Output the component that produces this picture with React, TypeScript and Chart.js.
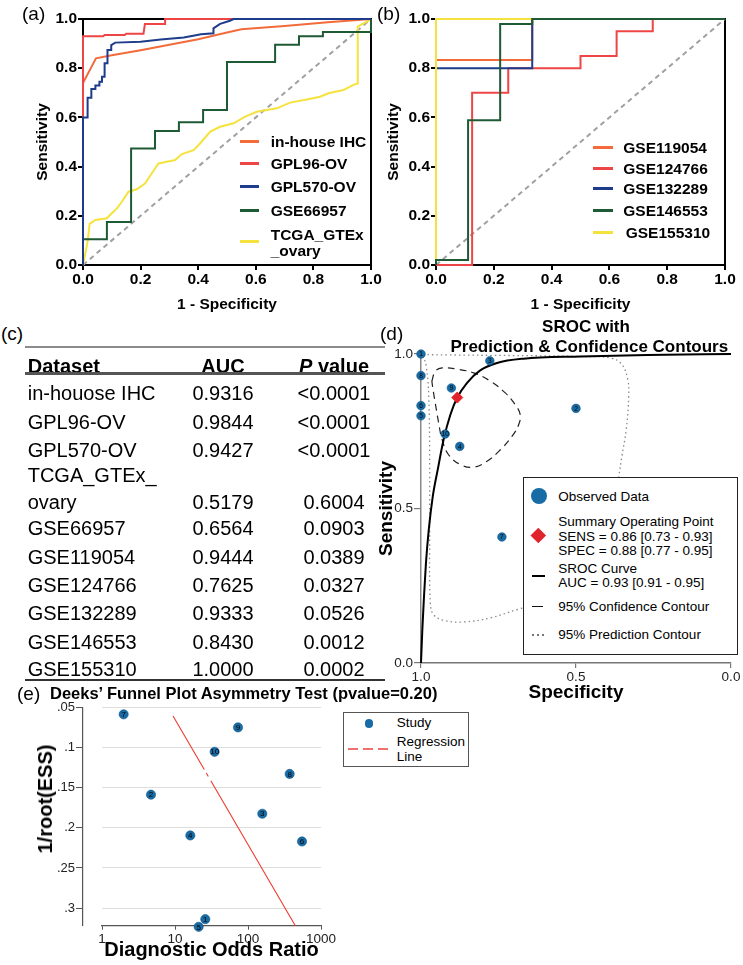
import React, { useEffect, useRef } from 'react';
import { Chart, registerables } from 'chart.js';

Chart.register(...registerables);

const FONT = "'Liberation Sans', Arial, Helvetica, sans-serif";
Chart.defaults.font.family = FONT;
Chart.defaults.color = '#000';

// ---------------- (a) ROC curves ----------------
const rocTicks = [0, 0.2, 0.4, 0.6, 0.8, 1];
const rocTickLabels = ['0.0', '0.2', '0.4', '0.6', '0.8', '1.0'];
const diagX = [0, 1];
const diagY = [0, 1];

const aNames = ['in-house IHC', 'GPL96-OV', 'GPL570-OV', 'GSE66957', 'TCGA_GTEx_ovary'];
const aLegendText = [['in-house IHC'], ['GPL96-OV'], ['GPL570-OV'], ['GSE66957'], ['TCGA_GTEx', '_ovary']];
const aColors = ['#F36B3B', '#EE4647', '#1E3C8C', '#1E5A34', '#F6E23C'];

const ihcFpr = [0, 0, 0.045, 0.1, 0.2, 0.3, 0.4, 0.5, 0.55, 0.7, 0.85, 1];
const ihcTpr = [0, 0.74, 0.84, 0.853, 0.873, 0.895, 0.918, 0.945, 0.958, 0.972, 0.987, 1];

const gpl96Fpr = [0, 0, 0.07, 0.075, 0.145, 0.15, 0.21, 0.215, 0.285, 0.285, 1];
const gpl96Tpr = [0, 0.93, 0.93, 0.935, 0.935, 0.94, 0.94, 0.98, 0.98, 1, 1];

const gpl570Fpr = [0, 0, 0.016, 0.016, 0.029, 0.029, 0.043, 0.043, 0.057, 0.057, 0.066, 0.066, 0.075, 0.075, 0.085, 0.085, 0.098, 0.098, 0.112, 0.2, 0.27, 0.35, 0.41, 0.453, 0.453, 0.476, 0.51, 0.523, 1];
const gpl570Tpr = [0, 0.6, 0.6, 0.68, 0.68, 0.715, 0.715, 0.73, 0.73, 0.745, 0.745, 0.765, 0.765, 0.82, 0.82, 0.874, 0.874, 0.894, 0.904, 0.908, 0.917, 0.925, 0.938, 0.942, 0.962, 0.98, 0.993, 1, 1];

const gse66957Fpr = [0, 0, 0.083, 0.083, 0.167, 0.167, 0.25, 0.25, 0.333, 0.333, 0.417, 0.417, 0.5, 0.5, 0.667, 0.667, 0.75, 0.75, 0.833, 0.833, 1, 1];
const gse66957Tpr = [0, 0.105, 0.105, 0.175, 0.175, 0.474, 0.474, 0.545, 0.545, 0.58, 0.58, 0.63, 0.63, 0.825, 0.825, 0.895, 0.895, 0.93, 0.93, 0.947, 0.947, 1];

const tcgaFpr = [0, 0.008, 0.016, 0.023, 0.043, 0.083, 0.1, 0.118, 0.135, 0.158, 0.187, 0.216, 0.239, 0.262, 0.291, 0.32, 0.343, 0.384, 0.407, 0.442, 0.476, 0.523, 0.563, 0.603, 0.673, 0.719, 0.777, 0.823, 0.852, 0.904, 0.939, 0.953, 0.954, 0.985, 1];
const tcgaTpr = [0, 0.047, 0.095, 0.167, 0.183, 0.19, 0.21, 0.23, 0.257, 0.298, 0.308, 0.332, 0.373, 0.413, 0.42, 0.427, 0.451, 0.467, 0.495, 0.542, 0.562, 0.576, 0.603, 0.623, 0.637, 0.66, 0.673, 0.684, 0.698, 0.711, 0.732, 0.738, 0.969, 0.989, 1];

// ---------------- (b) ROC curves ----------------
const bNames = ['GSE119054', 'GSE124766', 'GSE132289', 'GSE146553', 'GSE155310'];
const bColors = ['#F36B3B', '#EE4647', '#1E3C8C', '#1E5A34', '#F6E23C'];

const gse119054Fpr = [0, 0, 0.333, 0.333, 1];
const gse119054Tpr = [0, 0.833, 0.833, 1, 1];
const gse124766Fpr = [0, 0.125, 0.125, 0.25, 0.25, 0.5, 0.5, 0.625, 0.625, 0.75, 0.75, 1];
const gse124766Tpr = [0, 0, 0.7, 0.7, 0.8, 0.8, 0.85, 0.85, 0.95, 0.95, 1, 1];
const gse132289Fpr = [0, 0, 0.333, 0.333, 1];
const gse132289Tpr = [0, 0.8, 0.8, 1, 1];
const gse146553Fpr = [0, 0, 0.111, 0.111, 0.222, 0.222, 0.333, 0.333, 1];
const gse146553Tpr = [0, 0.02, 0.02, 0.588, 0.588, 0.98, 0.98, 1, 1];
const gse155310Fpr = [0, 0, 1];
const gse155310Tpr = [0, 1, 1];

// ---------------- (c) table ----------------
const tHeaders = ['Dataset', 'AUC', 'P value'];
const tDatasets = ['in-houose IHC', 'GPL96-OV', 'GPL570-OV', 'TCGA_GTEx_\novary', 'GSE66957', 'GSE119054', 'GSE124766', 'GSE132289', 'GSE146553', 'GSE155310'];
const tAuc = ['0.9316', '0.9844', '0.9427', '0.5179', '0.6564', '0.9444', '0.7625', '0.9333', '0.8430', '1.0000'];
const tP = ['<0.0001', '<0.0001', '<0.0001', '0.6004', '0.0903', '0.0389', '0.0327', '0.0526', '0.0012', '0.0002'];

// ---------------- (d) SROC ----------------
const sTicks = [0, 0.5, 1];
const sTickLabels = ['0.0', '0.5', '1.0'];
const studyIds = ['1', '8', '6', '5', '3', '9', '2', '10', '4', '7'];
const studySpec = [1.0, 1.0, 1.0, 1.0, 0.778, 0.902, 0.5, 0.922, 0.875, 0.739];
const studySens = [1.0, 0.93, 0.833, 0.8, 0.978, 0.89, 0.824, 0.741, 0.701, 0.408];
const summarySpec = [0.883];
const summarySens = [0.859];
const srocSpec = [1, 0.9957, 0.9903, 0.984, 0.975, 0.962, 0.946, 0.927, 0.905, 0.883, 0.852, 0.809, 0.755, 0.669, 0.486, 0.271, 0];
const srocSens = [0, 0.108, 0.216, 0.324, 0.431, 0.539, 0.626, 0.723, 0.804, 0.859, 0.906, 0.947, 0.971, 0.985, 0.992, 0.997, 1.0];
const confSpec = [0.965, 0.954, 0.932, 0.884, 0.83, 0.776, 0.728, 0.696, 0.68, 0.685, 0.706, 0.744, 0.787, 0.83, 0.873, 0.911, 0.932, 0.943, 0.954, 0.962, 0.965];
const confSens = [0.912, 0.944, 0.955, 0.951, 0.939, 0.912, 0.874, 0.836, 0.804, 0.771, 0.734, 0.69, 0.653, 0.634, 0.642, 0.674, 0.723, 0.777, 0.841, 0.89, 0.912];
const predSpec = [0.994, 0.916, 0.701, 0.486, 0.389, 0.352, 0.333, 0.33, 0.338, 0.352, 0.362, 0.389, 0.486, 0.615, 0.69, 0.776, 0.862, 0.927, 0.959, 0.97, 0.972, 0.972, 0.975, 0.983, 0.994];
const predSens = [0.998, 0.997, 0.995, 0.992, 0.987, 0.966, 0.917, 0.863, 0.755, 0.669, 0.604, 0.431, 0.259, 0.194, 0.173, 0.146, 0.133, 0.138, 0.156, 0.194, 0.431, 0.647, 0.863, 0.96, 0.998];

// ---------------- (e) Deeks' funnel ----------------
const eIds = ['7', '9', '10', '8', '2', '3', '4', '6', '1', '5'];
const eDor = [1.98, 73, 34.9, 372, 4.69, 157, 16.2, 549, 26.0, 21.1];
const eInvRootEss = [0.0583, 0.0746, 0.105, 0.1326, 0.1585, 0.1823, 0.2094, 0.2169, 0.3138, 0.3234];
const regDor = [9.4, 445];
const regInvRootEss = [0.0604, 0.322];
const eYTicks = [0.05, 0.1, 0.15, 0.2, 0.25, 0.3];
const eYLabels = ['.05', '.1', '.15', '.2', '.25', '.3'];
const eXTicks = [1, 10, 100, 1000];
const eXLabels = ['1', '10', '100', '1000'];

const POINT_BLUE = '#186ca6';
const DIAMOND_RED = '#e1242b';

// ---------------- helpers ----------------
const pts = (xs: number[], ys: number[]) => xs.map((x, i) => ({ x, y: ys[i] }));

const framePlugin = {
  id: 'frame',
  beforeDatasetsDraw(chart: any, _a: any, opts: any) {
    if (!opts || !opts.color) return;
    const { ctx, chartArea: c } = chart;
    ctx.save();
    ctx.strokeStyle = opts.color;
    ctx.lineWidth = opts.width || 2;
    ctx.strokeRect(c.left, c.top, c.right - c.left, c.bottom - c.top);
    ctx.restore();
  },
};

// draws each point's study number (stored on the dataset as pointIds) on top of the marker
const pointLabelPlugin = {
  id: 'ptLabels',
  afterDatasetsDraw(chart: any) {
    const ctx = chart.ctx;
    chart.data.datasets.forEach((ds: any, di: number) => {
      if (!ds.pointIds) return;
      const meta = chart.getDatasetMeta(di);
      ctx.save();
      ctx.font = `${ds.pointIdSize || 7}px ${FONT}`;
      ctx.fillStyle = '#000';
      ctx.textAlign = 'center';
      ctx.textBaseline = 'middle';
      meta.data.forEach((el: any, i: number) => {
        ctx.fillText(String(ds.pointIds[i]), el.x, el.y + 0.5);
      });
      ctx.restore();
    });
  },
};

function rocLine(label: string, xs: number[], ys: number[], color: string, extra: any = {}) {
  return {
    label,
    data: pts(xs, ys),
    borderColor: color,
    backgroundColor: color,
    borderWidth: 2,
    pointRadius: 0,
    tension: 0,
    fill: false,
    clip: false,
    ...extra,
  };
}

function rocOptions(yWidth: number, yTitlePad: number, padRight: number) {
  const f = { family: FONT, size: 15.5, weight: 'bold' as const };
  return {
    responsive: false,
    animation: false,
    devicePixelRatio: 1,
    layout: { padding: { top: 19, right: padRight, left: 0, bottom: 0 } },
    plugins: { legend: { display: false }, tooltip: { enabled: false }, frame: { color: '#000', width: 2 } },
    scales: {
      x: {
        type: 'linear',
        min: 0,
        max: 1,
        afterBuildTicks: (s: any) => { s.ticks = rocTicks.map((v) => ({ value: v })); },
        ticks: { font: f, color: '#000', padding: 0, maxRotation: 0, autoSkip: false, callback: (_v: any, i: number) => rocTickLabels[i] },
        grid: { display: true, drawOnChartArea: false, drawTicks: true, tickLength: 5, color: '#000', lineWidth: 2 },
        border: { display: true, color: '#000', width: 2 },
        title: { display: true, text: '1 - Specificity', font: f, color: '#000', padding: { top: 0, bottom: 5.7 } },
        afterFit: (s: any) => { s.height = 55; },
      },
      y: {
        type: 'linear',
        min: 0,
        max: 1,
        afterBuildTicks: (s: any) => { s.ticks = rocTicks.map((v) => ({ value: v })); },
        ticks: { font: f, color: '#000', padding: 1, autoSkip: false, callback: (_v: any, i: number) => rocTickLabels[i] },
        grid: { display: true, drawOnChartArea: false, drawTicks: true, tickLength: 5, color: '#000', lineWidth: 2 },
        border: { display: true, color: '#000', width: 2 },
        title: { display: true, text: 'Sensitivity', font: f, color: '#000', padding: { top: yTitlePad, bottom: 0 } },
        afterFit: (s: any) => { s.width = yWidth; },
      },
    },
  };
}

function makeA() {
  return {
    type: 'line',
    data: {
      datasets: [
        rocLine(aNames[2], gpl570Fpr, gpl570Tpr, aColors[2]),
        rocLine(aNames[1], gpl96Fpr, gpl96Tpr, aColors[1]),
        rocLine(aNames[0], ihcFpr, ihcTpr, aColors[0]),
        rocLine(aNames[3], gse66957Fpr, gse66957Tpr, aColors[3]),
        rocLine(aNames[4], tcgaFpr, tcgaTpr, aColors[4]),
        rocLine('Reference', diagX, diagY, '#a0a0a0', { borderDash: [5, 4] }),
      ],
    },
    options: rocOptions(83, 33, 19),
    plugins: [framePlugin],
  };
}

function makeB() {
  return {
    type: 'line',
    data: {
      datasets: [
        rocLine(bNames[3], gse146553Fpr, gse146553Tpr, bColors[3]),
        rocLine(bNames[4], gse155310Fpr, gse155310Tpr, bColors[4]),
        rocLine(bNames[2], gse132289Fpr, gse132289Tpr, bColors[2]),
        rocLine(bNames[0], gse119054Fpr, gse119054Tpr, bColors[0]),
        rocLine(bNames[1], gse124766Fpr, gse124766Tpr, bColors[1]),
        rocLine('Reference', diagX, diagY, '#a0a0a0', { borderDash: [5, 4] }),
      ],
    },
    options: rocOptions(56, 4, 18),
    plugins: [framePlugin],
  };
}

function makeD() {
  const tickF = { family: FONT, size: 13.5 };
  const titleF = { family: FONT, size: 19, weight: 'bold' as const };
  return {
    type: 'line',
    data: {
      datasets: [
        {
          label: 'Observed Data',
          data: pts(studySpec, studySens),
          pointIds: studyIds,
          pointIdSize: 6.5,
          showLine: false,
          pointRadius: 4.3,
          pointBackgroundColor: POINT_BLUE,
          pointBorderColor: '#0e5687',
          pointBorderWidth: 0.6,
          clip: false,
        },
        {
          label: 'Summary Operating Point',
          data: pts(summarySpec, summarySens),
          showLine: false,
          pointStyle: 'rectRot',
          pointRadius: 5.5,
          pointBackgroundColor: DIAMOND_RED,
          pointBorderColor: DIAMOND_RED,
          clip: false,
        },
        {
          label: 'SROC Curve',
          data: pts(srocSpec, srocSens),
          borderColor: '#000',
          borderWidth: 2,
          pointRadius: 0,
          cubicInterpolationMode: 'monotone',
          clip: false,
        },
        {
          label: '95% Confidence Contour',
          data: pts(confSpec, confSens),
          borderColor: '#222',
          borderWidth: 1.2,
          borderDash: [7, 5],
          pointRadius: 0,
          tension: 0.4,
          clip: false,
        },
        {
          label: '95% Prediction Contour',
          data: pts(predSpec, predSens),
          borderColor: '#8a8a8a',
          borderWidth: 1.3,
          borderDash: [1.5, 3],
          pointRadius: 0,
          tension: 0.4,
          clip: false,
        },
      ],
    },
    options: {
      responsive: false,
      animation: false,
      devicePixelRatio: 1,
      layout: { padding: { top: 16, right: 12, left: 0, bottom: 0 } },
      plugins: { legend: { display: false }, tooltip: { enabled: false } },
      scales: {
        x: {
          type: 'linear',
          reverse: true,
          min: 0,
          max: 1,
          afterBuildTicks: (s: any) => { s.ticks = sTicks.map((v) => ({ value: v })); },
          ticks: { font: tickF, color: '#222', padding: 1, maxRotation: 0, autoSkip: false, callback: (_v: any, i: number) => sTickLabels[i] },
          grid: { display: true, drawOnChartArea: false, drawTicks: true, tickLength: 5, color: '#777', lineWidth: 1.2 },
          border: { display: true, color: '#777', width: 1.5 },
          title: { display: true, text: 'Specificity', font: titleF, color: '#000', padding: { top: 0, bottom: 5.6 } },
          afterFit: (s: any) => { s.height = 47; },
        },
        y: {
          type: 'linear',
          min: 0,
          max: 1,
          afterBuildTicks: (s: any) => { s.ticks = sTicks.map((v) => ({ value: v })); },
          ticks: { font: tickF, color: '#222', padding: 1, autoSkip: false, callback: (_v: any, i: number) => sTickLabels[i] },
          grid: { display: true, drawOnChartArea: false, drawTicks: true, tickLength: 7, color: '#777', lineWidth: 1.2 },
          border: { display: true, color: '#888', width: 1.5 },
          title: { display: true, text: 'Sensitivity', font: titleF, color: '#000', padding: { top: 9.6, bottom: 0 } },
          afterFit: (s: any) => { s.width = 55; },
        },
      },
    },
    plugins: [pointLabelPlugin],
  };
}

function makeE() {
  return {
    type: 'line',
    data: {
      datasets: [
        {
          label: 'Study',
          data: pts(eDor, eInvRootEss),
          pointIds: eIds,
          pointIdSize: 8,
          showLine: false,
          pointRadius: 4.6,
          pointBackgroundColor: POINT_BLUE,
          pointBorderColor: '#0e5687',
          pointBorderWidth: 0.6,
          clip: false,
          yAxisID: 'y',
        },
        {
          label: 'Regression Line',
          data: pts(regDor, regInvRootEss),
          borderColor: '#ee3a30',
          borderWidth: 1.1,
          borderDash: [62, 4, 4, 5, 300],
          pointRadius: 0,
          clip: false,
          yAxisID: 'y',
        },
      ],
    },
    options: {
      responsive: false,
      animation: false,
      devicePixelRatio: 1,
      layout: { padding: { top: 9.7, right: 24, left: 0, bottom: 0 } },
      plugins: { legend: { display: false }, tooltip: { enabled: false } },
      scales: {
        x: {
          type: 'logarithmic',
          min: 1,
          max: 1000,
          afterBuildTicks: (s: any) => { s.ticks = eXTicks.map((v) => ({ value: v })); },
          ticks: { font: { family: FONT, size: 13.5 }, color: '#222', padding: 1, maxRotation: 0, autoSkip: false, callback: (_v: any, i: number) => eXLabels[i] },
          grid: { display: true, drawOnChartArea: false, drawTicks: true, tickLength: 4, color: '#555' },
          border: { display: true, color: '#555', width: 1.2 },
          title: { display: true, text: 'Diagnostic Odds Ratio', font: { family: FONT, size: 20, weight: 'bold' }, color: '#000', padding: { top: 0, bottom: 3 } },
          afterFit: (s: any) => { s.height = 39.3; },
        },
        y: {
          type: 'linear',
          position: 'left',
          weight: 1,
          reverse: true,
          min: 0.05,
          max: 0.322,
          afterBuildTicks: (s: any) => { s.ticks = eYTicks.map((v) => ({ value: v })); },
          ticks: { font: { family: FONT, size: 13 }, color: '#222', padding: 1, autoSkip: false, callback: (_v: any, i: number) => eYLabels[i] },
          grid: { display: true, drawOnChartArea: true, drawTicks: true, tickLength: 7, color: '#dedede', tickColor: '#555', lineWidth: 1 },
          border: { display: true, color: '#555', width: 1.2 },
          afterFit: (s: any) => { s.width = 83; },
        },
        yGap: {
          type: 'linear',
          position: 'left',
          weight: 0,
          display: true,
          grid: { display: false },
          border: { display: false },
          ticks: { display: false },
          afterFit: (s: any) => { s.width = 19; },
        },
      },
    },
    plugins: [pointLabelPlugin],
  };
}

function ChartBox({ left, top, width, height, make }: { left: number; top: number; width: number; height: number; make: () => any }) {
  const ref = useRef<HTMLCanvasElement>(null);
  useEffect(() => {
    const chart = new Chart(ref.current as HTMLCanvasElement, make());
    return () => chart.destroy();
  }, []);
  return (
    <canvas
      ref={ref}
      width={width}
      height={height}
      style={{ position: 'absolute', left, top, width, height }}
    />
  );
}

function Txt({ x, y, size, bold, italic, align = 'left', color = '#000', children }: any) {
  const lh = Math.round(size * 1.2);
  const tx = align === 'center' ? '-50%' : align === 'right' ? '-100%' : '0';
  return (
    <div
      style={{
        position: 'absolute',
        left: x,
        top: y - lh / 2,
        fontSize: size,
        lineHeight: lh + 'px',
        fontWeight: bold ? 700 : 400,
        fontStyle: italic ? 'italic' : 'normal',
        fontFamily: FONT,
        color,
        whiteSpace: 'pre',
        transform: `translateX(${tx})`,
      }}
    >
      {children}
    </div>
  );
}

function Bar({ x, y, w, h, color }: any) {
  return <div style={{ position: 'absolute', left: x, top: y - h / 2, width: w, height: h, background: color }} />;
}

export default function App() {
  // layout positions (pixels)
  const aLegY = [141.7, 163.3, 186.7, 210.7, 241.7];
  const aLegTextY = [[141.7], [163.3], [186.7], [210.7], [234, 250.7]];
  const bLegY = [147.7, 168.3, 188.3, 210.7, 232.3];
  const rowY = [393.3, 421.7, 450, 501.7, 528.3, 556.7, 585, 613.3, 641.7, 668.5];

  return (
    <div style={{ position: 'fixed', left: 0, top: 0, width: 743, height: 965, background: '#fff', overflow: 'hidden', fontFamily: FONT }}>
      <ChartBox left={0} top={0} width={390} height={320} make={makeA} />
      <ChartBox left={380} top={0} width={363} height={320} make={makeB} />
      <ChartBox left={366} top={338} width={377} height={372} make={makeD} />
      <ChartBox left={0} top={698} width={345} height={267} make={makeE} />

      {/* panel letters */}
      <Txt x={22} y={13} size={19}>(a)</Txt>
      <Txt x={377} y={13} size={19}>(b)</Txt>
      <Txt x={1} y={333} size={19}>(c)</Txt>
      <Txt x={380} y={333} size={19}>(d)</Txt>
      <Txt x={17} y={693} size={19}>(e)</Txt>

      {/* legend (a) */}
      {aColors.map((c, i) => (
        <Bar key={'al' + i} x={240} y={aLegY[i]} w={19} h={2.5} color={c} />
      ))}
      {aLegendText.map((lines, i) =>
        lines.map((t, j) => (
          <Txt key={'at' + i + '_' + j} x={270.7} y={aLegTextY[i][j]} size={15.5} bold>{t}</Txt>
        ))
      )}

      {/* legend (b) */}
      {bColors.map((c, i) => (
        <Bar key={'bl' + i} x={593} y={bLegY[i]} w={20} h={2.5} color={c} />
      ))}
      {bNames.map((t, i) => (
        <Txt key={'bt' + i} x={i === 4 ? 625.7 : 623.3} y={bLegY[i]} size={15.5} bold>{t}</Txt>
      ))}

      {/* table (c) */}
      <Bar x={25} y={347} w={360} h={2.3} color="#8c8c8c" />
      <Txt x={27.7} y={366} size={20} bold>{tHeaders[0]}</Txt>
      <Txt x={223} y={366} size={20} bold align="center">{tHeaders[1]}</Txt>
      <div style={{ position: 'absolute', left: 334, top: 366 - 12, transform: 'translateX(-50%)', fontSize: 20, lineHeight: '24px', fontWeight: 700, fontFamily: FONT, whiteSpace: 'pre' }}>
        <i>{tHeaders[2].split(' ')[0]}</i>{' ' + tHeaders[2].split(' ')[1]}
      </div>
      <Bar x={25} y={373.5} w={360} h={2.3} color="#555" />
      {tDatasets.map((name, i) => {
        const lines = name.split('\n');
        return (
          <React.Fragment key={'r' + i}>
            {lines.length === 2 ? (
              <>
                <Txt x={27.7} y={475} size={20}>{lines[0]}</Txt>
                <Txt x={27.7} y={rowY[i]} size={20}>{lines[1]}</Txt>
              </>
            ) : (
              <Txt x={27.7} y={rowY[i]} size={20}>{name}</Txt>
            )}
            <Txt x={223} y={rowY[i]} size={20} align="center">{tAuc[i]}</Txt>
            <Txt x={334} y={rowY[i]} size={20} align="center">{tP[i]}</Txt>
          </React.Fragment>
        );
      })}
      <Bar x={25} y={680} w={360} h={1.7} color="#333" />

      {/* (d) title */}
      <Txt x={586} y={327} size={17} bold align="center">SROC with</Txt>
      <Txt x={589.3} y={346.7} size={17} bold align="center">Prediction &amp; Confidence Contours</Txt>

      {/* (d) legend */}
      <div style={{ position: 'absolute', left: 522.7, top: 476.7, width: 215.6, height: 178.3, border: '1.5px solid #222', background: '#fff', boxSizing: 'border-box' }} />
      <div style={{ position: 'absolute', left: 539.3 - 8, top: 496 - 8, width: 16, height: 16, borderRadius: '50%', background: POINT_BLUE }} />
      <Txt x={558.3} y={497} size={13.5}>Observed Data</Txt>
      <div style={{ position: 'absolute', left: 538.3 - 5.3, top: 535.7 - 5.3, width: 10.6, height: 10.6, background: DIAMOND_RED, transform: 'rotate(45deg)' }} />
      <Txt x={558.3} y={522.3} size={13.5}>Summary Operating Point</Txt>
      <Txt x={558.3} y={536.7} size={13.5}>SENS = 0.86 [0.73 - 0.93]</Txt>
      <Txt x={558.3} y={550.7} size={13.5}>SPEC = 0.88 [0.77 - 0.95]</Txt>
      <Bar x={531.7} y={576} w={13.3} h={2.7} color="#000" />
      <Txt x={558.3} y={569} size={13.5}>SROC Curve</Txt>
      <Txt x={558.3} y={582.7} size={13.5}>AUC = 0.93 [0.91 - 0.95]</Txt>
      <Bar x={531.7} y={606.7} w={11.6} h={1.5} color="#111" />
      <Txt x={558.3} y={606.7} size={13.5}>95% Confidence Contour</Txt>
      <Bar x={532} y={635} w={1.5} h={1.5} color="#777" />
      <Bar x={537} y={635} w={1.5} h={1.5} color="#777" />
      <Bar x={542} y={635} w={1.5} h={1.5} color="#777" />
      <Txt x={558.3} y={635} size={13.5}>95% Prediction Contour</Txt>

      {/* (e) title and y-axis title */}
      <Txt x={50} y={693} size={16.5} bold>Deeks’ Funnel Plot Asymmetry Test (pvalue=0.20)</Txt>
      <div style={{ position: 'absolute', left: 45, top: 799, transform: 'translate(-50%, -50%) rotate(-90deg)', fontSize: 20, lineHeight: '24px', fontWeight: 700, fontFamily: FONT, whiteSpace: 'pre' }}>1/root(ESS)</div>

      {/* (e) legend */}
      <div style={{ position: 'absolute', left: 343.3, top: 711.7, width: 126, height: 55.6, border: '1px solid #555', background: '#fff', boxSizing: 'border-box' }} />
      <div style={{ position: 'absolute', left: 369 - 4.3, top: 723.3 - 4.3, width: 8.6, height: 8.6, borderRadius: '50%', background: POINT_BLUE }} />
      <Txt x={396.7} y={723.3} size={13.5}>Study</Txt>
      <div style={{ position: 'absolute', left: 348.3, top: 748.4, width: 42, height: 1.2, background: 'repeating-linear-gradient(to right, #f07070 0 10px, transparent 10px 15px)' }} />
      <Txt x={396.7} y={741.7} size={13.5}>Regression</Txt>
      <Txt x={396.7} y={756.7} size={13.5}>Line</Txt>
    </div>
  );
}
